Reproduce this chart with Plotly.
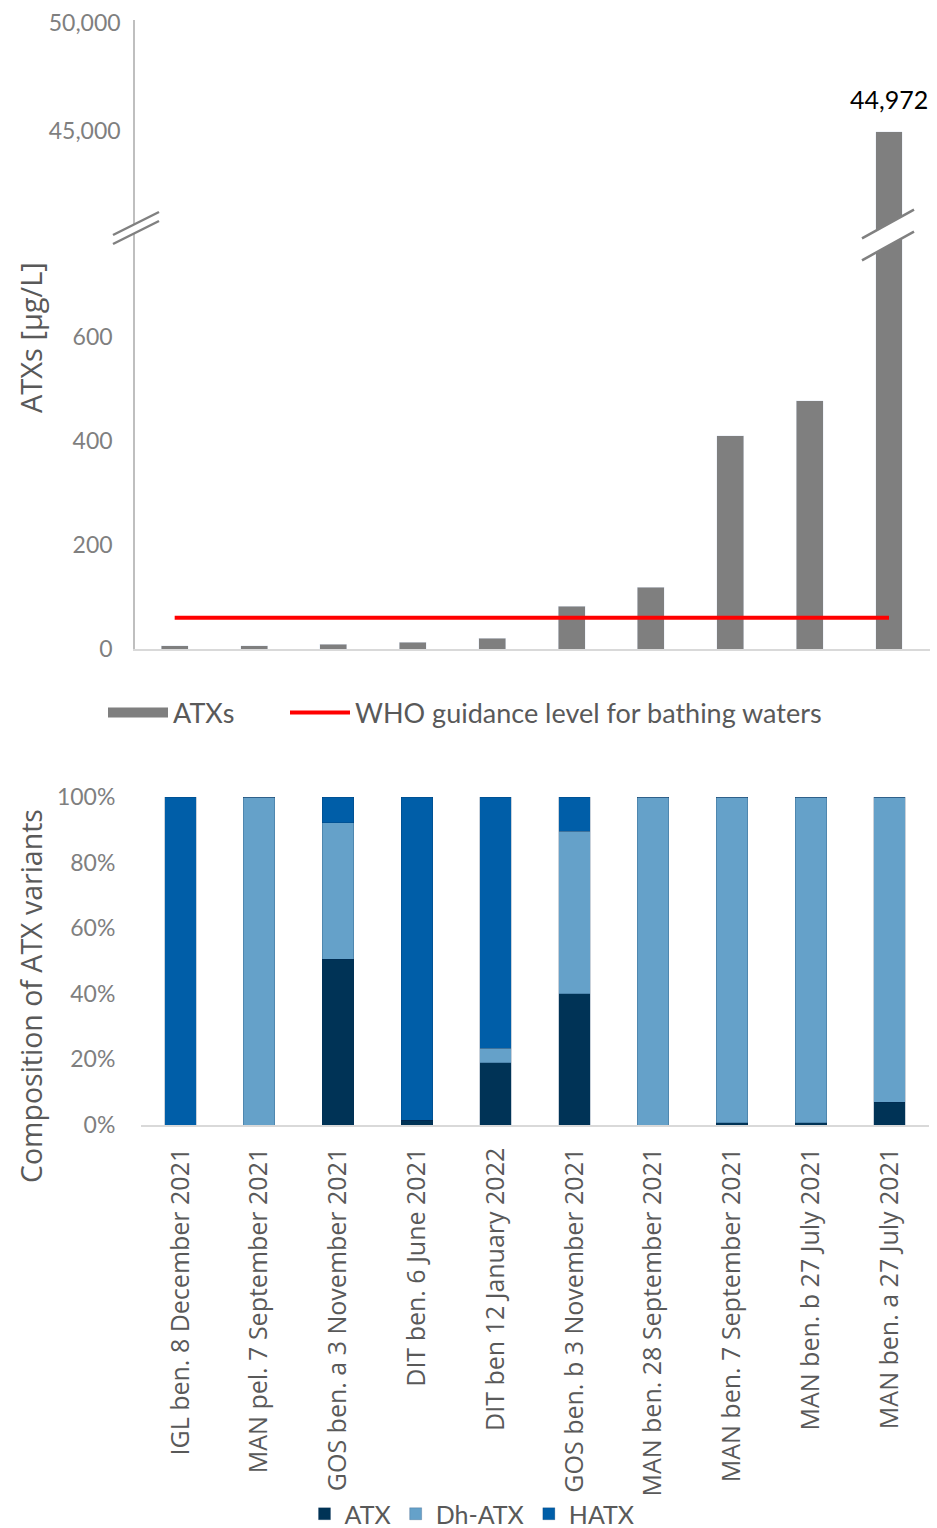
import plotly.graph_objects as go

W, H = 937, 1528

categories = [
    "IGL ben. 8 December 2021",
    "MAN pel. 7 September 2021",
    "GOS ben. a 3 November 2021",
    "DIT ben. 6 June 2021",
    "DIT ben 12 January 2022",
    "GOS ben. b 3 November 2021",
    "MAN ben. 28 September 2021",
    "MAN ben. 7 September 2021",
    "MAN ben. b 27 July 2021",
    "MAN ben. a 27 July 2021",
]
atxs_total = [6, 6, 9, 13, 21, 82, 119, 410, 477, 44972]
who_level = [60] * len(categories)

atx_pct = [0, 0, 50.5, 1.5, 19.0, 40.0, 0, 0.7, 0.7, 6.9]
dh_atx_pct = [0, 100, 41.7, 0, 4.4, 49.5, 100, 99.3, 99.3, 93.1]
hatx_pct = [100, 0, 7.8, 98.5, 76.6, 10.5, 0, 0, 0, 0]

upper_ticks = [45000, 50000]
lower_ticks = [0, 200, 400, 600]
pct_ticks = [0, 20, 40, 60, 80, 100]
pct_labels = [f"{v}%" for v in pct_ticks]

GRAY = "#7f7f7f"
TICK_C = "#7f7f7f"
TITLE_C = "#595959"
C_ATX, C_DH, C_HATX = "#003356", "#65a1c9", "#005ea8"
TICKFONT = dict(family="Lato", size=23, color=TICK_C)
LEGFONT = dict(family="Lato", size=27, color="#595959")


def py(p):
    return 1 - p / H


def px(p):
    return p / W


fig = go.Figure()

# upper (broken) panel and lower panel share the same bars
fig.add_trace(go.Bar(x=categories, y=atxs_total, xaxis="x", yaxis="y",
                     marker_color=GRAY, width=0.34, showlegend=False))
fig.add_trace(go.Bar(x=categories, y=atxs_total, xaxis="x", yaxis="y2",
                     marker_color=GRAY, width=0.34, showlegend=False))
fig.add_trace(go.Scatter(x=[None], y=[None], mode="lines", name="ATXs",
                         line=dict(color=GRAY, width=15), xaxis="x", yaxis="y2",
                         legend="legend"))
fig.add_trace(go.Scatter(x=categories, y=who_level, mode="lines",
                         name="WHO guidance level for bathing waters",
                         line=dict(color="#ff0000", width=4), xaxis="x", yaxis="y2",
                         legend="legend3"))

# composition
for name, vals, col in [("ATX", atx_pct, C_ATX), ("Dh-ATX", dh_atx_pct, C_DH),
                        ("HATX", hatx_pct, C_HATX)]:
    fig.add_trace(go.Bar(x=categories, y=vals, name=name, marker_color=col,
                         marker_line=dict(width=0.6, color="rgba(0,40,80,0.35)"),
                         width=0.4, xaxis="x2", yaxis="y3", legend="legend2"))

B = 233  # boundary between broken panels (px)
fig.update_layout(
    width=W, height=H, margin=dict(l=0, r=0, t=0, b=0, autoexpand=False),
    paper_bgcolor="white", plot_bgcolor="white",
    barmode="stack",
    font=dict(family="Lato", color=TICK_C),
    xaxis=dict(domain=[px(135), px(930)], anchor="y2", type="category",
               automargin=False,
               showline=True, linecolor="#d9d9d9", linewidth=1.5,
               showticklabels=False, ticks="", showgrid=False),
    yaxis=dict(domain=[py(B), py(20)], range=[40278, 50139], anchor="x",
               automargin=False,
               showline=True, linecolor="#bfbfbf", linewidth=1.5,
               tickvals=upper_ticks, tickformat=",", showgrid=False, zeroline=False,
               ticks="outside", ticklen=8, tickcolor="rgba(0,0,0,0)",
               tickfont=TICKFONT),
    yaxis2=dict(domain=[py(649), py(B)], range=[0, 800], anchor="x",
                automargin=False,
                showline=True, linecolor="#bfbfbf", linewidth=1.5,
                tickvals=lower_ticks, showgrid=False, zeroline=False,
                ticks="outside", ticklen=16, tickcolor="rgba(0,0,0,0)",
                tickfont=TICKFONT),
    xaxis2=dict(domain=[px(141), px(929)], anchor="y3", type="category",
                automargin=False,
                showline=True, linecolor="#d9d9d9", linewidth=1.5,
                tickangle=-90, ticks="outside", ticklen=11,
                tickcolor="rgba(0,0,0,0)", showgrid=False,
                tickfont=dict(family="Open Sans", size=25, color="#595959")),
    yaxis3=dict(domain=[py(1125), py(797)], range=[0, 100], anchor="x2",
                automargin=False,
                showline=False, tickvals=pct_ticks, ticktext=pct_labels,
                showgrid=False, zeroline=False,
                ticks="outside", ticklen=20, tickcolor="rgba(0,0,0,0)",
                tickfont=TICKFONT),
    legend=dict(orientation="h", x=px(103), y=py(713), xanchor="left",
                yanchor="middle", itemwidth=60, bgcolor="rgba(0,0,0,0)",
                font=LEGFONT),
    legend3=dict(orientation="h", x=px(285), y=py(713), xanchor="left",
                 yanchor="middle", itemwidth=60, bgcolor="rgba(0,0,0,0)",
                 font=LEGFONT),
    legend2=dict(orientation="h", x=px(472), y=py(1514), xanchor="center",
                 yanchor="middle", traceorder="normal", bgcolor="rgba(0,0,0,0)",
                 font=dict(family="Lato", size=25, color="#595959")),
)

# data label of the largest value
fig.add_annotation(x=categories[-1], y=atxs_total[-1], xref="x", yref="y",
                   text=f"{atxs_total[-1]:,}", showarrow=False, yanchor="bottom",
                   yshift=16, font=dict(family="Lato", size=25, color="black"))

# axis titles
fig.add_annotation(x=px(31), y=py(338), xref="paper", yref="paper",
                   xanchor="center", yanchor="middle",
                   text="ATXs [µg/L]", textangle=-90, showarrow=False,
                   font=dict(family="Open Sans", size=29, color=TITLE_C))
fig.add_annotation(x=px(31), y=py(996), xref="paper", yref="paper",
                   xanchor="center", yanchor="middle",
                   text="Composition of ATX variants", textangle=-90, showarrow=False,
                   font=dict(family="Open Sans", size=28.5, color=TITLE_C))


# break marks (decoration)
def break_mark(cx, cy, half_w, slope, gap):
    x0, x1 = cx - half_w, cx + half_w
    y0a, y1a = cy + slope * half_w - gap / 2, cy - slope * half_w - gap / 2
    y0b, y1b = cy + slope * half_w + gap / 2, cy - slope * half_w + gap / 2
    path = (f"M{px(x0)},{py(y0a)} L{px(x1)},{py(y1a)} "
            f"L{px(x1)},{py(y1b)} L{px(x0)},{py(y0b)} Z")
    fig.add_shape(type="path", path=path, xref="paper", yref="paper",
                  fillcolor="white", line=dict(width=0), layer="above")
    for ya, yb in [(y0a, y1a), (y0b, y1b)]:
        fig.add_shape(type="line", xref="paper", yref="paper",
                      x0=px(x0), y0=py(ya), x1=px(x1), y1=py(yb),
                      line=dict(color="#808080", width=2.5), layer="above")


break_mark(136, 228, 23, 0.5, 9)
break_mark(888, 235, 26, 0.55, 22)

fig.write_html("out.html")
